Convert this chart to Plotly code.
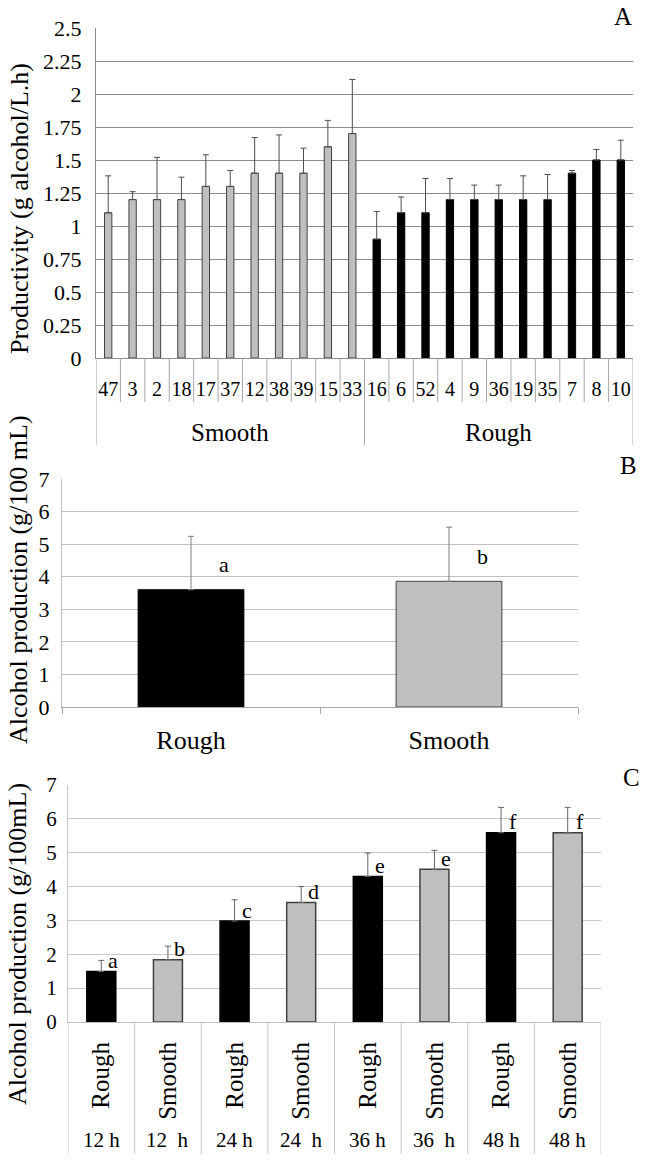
import plotly.graph_objects as go

W, H = 645, 1167
FONT = "Liberation Serif, Times New Roman, Times, DejaVu Serif, serif"

# ---------------- Panel A data ----------------
a_ids = ["47", "3", "2", "18", "17", "37", "12", "38", "39", "15", "33",
         "16", "6", "52", "4", "9", "36", "19", "35", "7", "8", "10"]
a_groups = ["Smooth"] * 11 + ["Rough"] * 11
a_values = [1.10, 1.20, 1.20, 1.20, 1.30, 1.30, 1.40, 1.40, 1.40, 1.60, 1.70,
            0.90, 1.10, 1.10, 1.20, 1.20, 1.20, 1.20, 1.20, 1.40, 1.50, 1.50]
a_errors = [0.28, 0.06, 0.32, 0.17, 0.24, 0.12, 0.27, 0.29, 0.19, 0.20, 0.41,
            0.21, 0.12, 0.26, 0.16, 0.11, 0.11, 0.18, 0.19, 0.02, 0.08, 0.15]
a_ytick_vals = [0, 0.25, 0.5, 0.75, 1, 1.25, 1.5, 1.75, 2, 2.25, 2.5]
a_ytick_text = ["0", "0.25", "0.5", "0.75", "1", "1.25", "1.5", "1.75", "2", "2.25", "2.5"]

# ---------------- Panel B data ----------------
b_cats = ["Rough", "Smooth"]
b_values = [3.60, 3.86]
b_errors = [1.64, 1.66]
b_letters = ["a", "b"]

# ---------------- Panel C data ----------------
c_morph = ["Rough", "Smooth", "Rough", "Smooth", "Rough", "Smooth", "Rough", "Smooth"]
c_times = ["12 h", "12 \u00a0h", "24 h", "24 \u00a0h", "36 h", "36 \u00a0h", "48 h", "48 h"]
c_values = [1.49, 1.84, 2.98, 3.53, 4.30, 4.51, 5.59, 5.59]
c_errors = [0.33, 0.40, 0.63, 0.47, 0.69, 0.56, 0.75, 0.75]
c_letters = ["a", "b", "c", "d", "e", "e", "f", "f"]

# ---------------- styles ----------------
FILL = {"Smooth": "#bfbfbf", "Rough": "#000000"}
EDGE = {"Smooth": "#404040", "Rough": "#000000"}


def px(x):
    return x / W


def py(y):
    return 1 - y / H


# panel boxes in pixels (left, right, top, bottom)
A = (96, 633, 28, 358)
B = (62, 578, 479, 707)
C = (68, 601, 785, 1022)

fig = go.Figure()

fig.add_trace(go.Bar(
    x=a_ids, y=a_values, width=0.3,
    marker=dict(color=[FILL[g] for g in a_groups],
                line=dict(color=[EDGE[g] for g in a_groups], width=1)),
    error_y=dict(type="data", array=a_errors, arrayminus=[0] * len(a_errors),
                 symmetric=False, color="#4d4d4d", thickness=1, width=3),
    xaxis="x", yaxis="y", hoverinfo="skip"))

fig.add_trace(go.Bar(
    x=b_cats, y=b_values, width=0.41,
    marker=dict(color=[FILL[c] for c in b_cats],
                line=dict(color=[EDGE[c] for c in b_cats], width=1)),
    error_y=dict(type="data", array=b_errors, arrayminus=[0] * len(b_errors),
                 symmetric=False, color="#808080", thickness=1, width=3),
    xaxis="x2", yaxis="y2", hoverinfo="skip"))

c_cats = [f"{m} {t}" for m, t in zip(c_morph, c_times)]
fig.add_trace(go.Bar(
    x=c_cats, y=c_values, width=0.435,
    marker=dict(color=[FILL[m] for m in c_morph],
                line=dict(color=[EDGE[m] for m in c_morph], width=1.5)),
    error_y=dict(type="data", array=c_errors, arrayminus=[0] * len(c_errors),
                 symmetric=False, color="#666666", thickness=1, width=3),
    xaxis="x3", yaxis="y3", hoverinfo="skip"))

fig.update_layout(
    template="none",
    width=W, height=H, margin=dict(l=0, r=0, t=0, b=0, pad=0), autosize=False,
    paper_bgcolor="white", plot_bgcolor="white", showlegend=False,
    font=dict(family=FONT, color="black"),
    xaxis=dict(domain=[px(A[0]), px(A[1])], anchor="y", type="category", automargin=False,
               range=[-0.5, len(a_ids) - 0.5], showline=True, linecolor="#8c8c8c",
               showgrid=False, zeroline=False, ticks="",
               tickfont=dict(family=FONT, size=20, color="black"),
               ticklabelstandoff=13),
    yaxis=dict(domain=[py(A[3]), py(A[2])], anchor="x", range=[0, 2.5], automargin=False,
               tickvals=a_ytick_vals, ticktext=a_ytick_text, showgrid=True,
               gridcolor="#8c8c8c", gridwidth=1, showline=True, linecolor="#8c8c8c",
               zeroline=False, ticks="", tickfont=dict(family=FONT, size=22, color="black"),
               ticklabelstandoff=9),
    xaxis2=dict(domain=[px(B[0]), px(B[1])], anchor="y2", type="category", automargin=False,
                range=[-0.5, 1.5], showline=True, linecolor="#a6a6a6",
                showgrid=False, zeroline=False, ticks="outside", tickson="boundaries", ticklen=6,
                tickcolor="#a6a6a6", tickwidth=1,
                tickfont=dict(family=FONT, size=26, color="black"),
                ticklabelstandoff=10),
    yaxis2=dict(domain=[py(B[3]), py(B[2])], anchor="x2", range=[0, 7], dtick=1, automargin=False,
                showgrid=True, gridcolor="#c0c0c0", gridwidth=1, showline=True, linecolor="#bfbfbf",
                zeroline=False, ticks="", tickfont=dict(family=FONT, size=22, color="black"),
                ticklabelstandoff=7),
    xaxis3=dict(domain=[px(C[0]), px(C[1])], anchor="y3", type="category", automargin=False,
                range=[-0.5, len(c_cats) - 0.5], showline=True, linecolor="#bfbfbf",
                showgrid=False, zeroline=False, ticks="", tickvals=c_cats, ticktext=c_morph,
                tickangle=-90, tickfont=dict(family=FONT, size=25, color="black"),
                ticklabelstandoff=9),
    yaxis3=dict(domain=[py(C[3]), py(C[2])], anchor="x3", range=[0, 7], dtick=1, automargin=False,
                showgrid=True, gridcolor="#c8c8c8", gridwidth=1, showline=True, linecolor="#c8c8c8",
                zeroline=False, ticks="", tickfont=dict(family=FONT, size=21, color="black"),
                ticklabelstandoff=6),
)

shapes = []
# Panel A category separators
group_bounds = [0] + [i for i in range(1, len(a_groups)) if a_groups[i] != a_groups[i - 1]] + [len(a_groups)]
for i in range(len(a_ids) + 1):
    bottom = 445 if i in group_bounds else 402
    shapes.append(dict(type="line", xref="x", yref="paper", x0=i - 0.5, x1=i - 0.5,
                       y0=py(A[3]), y1=py(bottom), line=dict(color="#a6a6a6", width=1)))
# Panel C column separators
for i in range(len(c_cats) + 1):
    shapes.append(dict(type="line", xref="x3", yref="paper", x0=i - 0.5, x1=i - 0.5,
                       y0=py(C[3]), y1=py(1154), line=dict(color="#c8c8c8", width=1)))
fig.update_layout(shapes=shapes)

ann = []
# Panel A group labels
for k in range(len(group_bounds) - 1):
    s, e = group_bounds[k], group_bounds[k + 1]
    ann.append(dict(xref="x", yref="paper", x=(s + e - 1) / 2, y=py(432),
                    text=a_groups[s], showarrow=False, yanchor="middle",
                    font=dict(family=FONT, size=25, color="black")))
# Panel B letters
for c, v, l in zip(b_cats, b_values, b_letters):
    ann.append(dict(xref="x2", yref="y2", x=c, y=v, text=l, showarrow=False,
                    xshift=33, yshift=25, yanchor="middle",
                    font=dict(family=FONT, size=22, color="black")))
# Panel C letters and time labels
for c, v, l, t in zip(c_cats, c_values, c_letters, c_times):
    ann.append(dict(xref="x3", yref="y3", x=c, y=v, text=l, showarrow=False,
                    xshift=12, yshift=11, yanchor="middle",
                    font=dict(family=FONT, size=22, color="black")))
    ann.append(dict(xref="x3", yref="paper", x=c, y=py(1140), text=t, showarrow=False,
                    yanchor="middle", font=dict(family=FONT, size=21, color="black")))
# Panel letters
for lab, (x, y) in zip(["A", "B", "C"], [(623, 17), (628, 465), (631, 777)]):
    ann.append(dict(xref="paper", yref="paper", x=px(x), y=py(y), text=lab,
                    showarrow=False, xanchor="center", yanchor="middle",
                    font=dict(family=FONT, size=25, color="black")))
# Y axis titles
for txt, (x, y) in zip(["Productivity (g alcohol/L.h)", "Alcohol production (g/100 mL)",
                        "Alcohol production (g/100mL)"],
                       [(20, 209), (18, 580), (17, 944)]):
    ann.append(dict(xref="paper", yref="paper", x=px(x), y=py(y), text=txt,
                    textangle=-90, showarrow=False, xanchor="center", yanchor="middle",
                    font=dict(family=FONT, size=26, color="black")))
fig.update_layout(annotations=ann)

fig.write_html("out.html",
               config={"displayModeBar": False, "staticPlot": True},
               post_script="document.body.style.margin='0px';document.body.style.padding='0px';")
